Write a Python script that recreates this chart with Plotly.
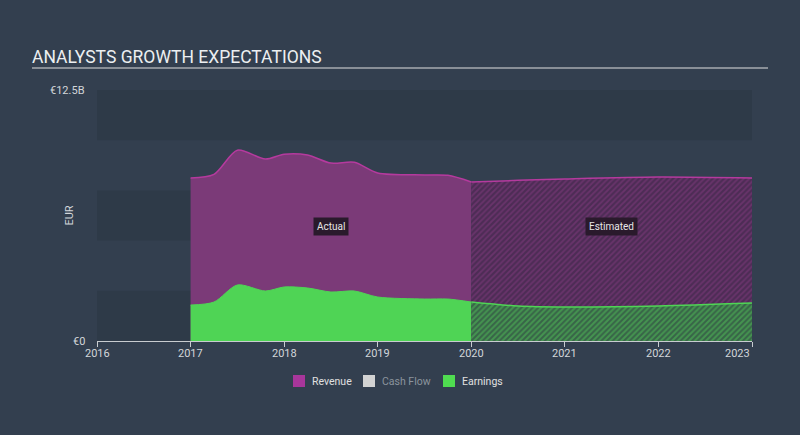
import plotly.graph_objects as go

# ---- data (EUR billions) ----
rev_act_x = [2017.0, 2017.25, 2017.5, 2017.8, 2018.0, 2018.25, 2018.5, 2018.75, 2019.0, 2019.5, 2019.75, 2020.0]
rev_act_y = [8.12, 8.3, 9.5, 9.06, 9.3, 9.26, 8.86, 8.9, 8.37, 8.27, 8.25, 7.92]
earn_act_y = [1.79, 1.94, 2.79, 2.49, 2.69, 2.64, 2.44, 2.49, 2.19, 2.09, 2.09, 1.94]

est_x = [2020.0, 2020.5, 2021.0, 2022.0, 2023.0]
rev_est_y = [7.92, 8.0, 8.07, 8.17, 8.12]
earn_est_y = [1.94, 1.74, 1.69, 1.74, 1.89]

tick_vals = [2016, 2017, 2018, 2019, 2020, 2021, 2022, 2023]
tick_text = ["2016", "2017", "2018", "2019", "2020", "2021", "2022", "2023"]
y_tick_vals = [0, 12.5]
y_tick_text = ["€0", "€12.5B"]
legend_names = ["Revenue", "Cash Flow", "Earnings"]
legend_colors = ["#a8369b", "#d2d2d2", "#4fdc50"]
legend_text_colors = ["#e0e0e0", "#8b949d", "#e0e0e0"]

BG = "#333f4f"
BAND = "#2e3a48"
PURPLE = "#7b3a78"
PURPLE_LINE = "#b53a9e"
GREEN = "#4fd455"
TXT = "#d2d6da"

# plot area in pixels (for converting layout positions)
PL, PR, PT, PB = 97, 752, 90, 341
def px_x(p):
    return (p - PL) / (PR - PL)
def px_y(p):
    return (PB - p) / (PB - PT)

fig = go.Figure()

# bands
for y0 in [0, 5, 10]:
    fig.add_shape(type="rect", xref="paper", yref="y", x0=0, x1=1, y0=y0, y1=y0 + 2.5,
                  fillcolor=BAND, line_width=0, layer="below")

# title underline
fig.add_shape(type="line", xref="paper", yref="paper",
              x0=px_x(32), x1=px_x(768), y0=px_y(68), y1=px_y(68),
              line=dict(color="#e0e0e0", width=1))

fig.add_trace(go.Scatter(x=rev_act_x, y=rev_act_y, mode="lines", fill="tozeroy",
                         line=dict(color=PURPLE_LINE, width=1.5, shape="spline", smoothing=0.8),
                         fillcolor=PURPLE, showlegend=False))
fig.add_trace(go.Scatter(x=est_x, y=rev_est_y, mode="lines", fill="tozeroy",
                         line=dict(color=PURPLE_LINE, width=1.5, shape="spline", smoothing=0.8),
                         fillcolor="#5a2e5d",
                         fillpattern=dict(shape="/", fgcolor="#863c82", bgcolor="#4d2c55", size=4, solidity=0.45),
                         showlegend=False))
fig.add_trace(go.Scatter(x=rev_act_x, y=earn_act_y, mode="lines", fill="tozeroy",
                         line=dict(color=GREEN, width=1, shape="spline", smoothing=0.8),
                         fillcolor=GREEN, showlegend=False))
fig.add_trace(go.Scatter(x=est_x, y=earn_est_y, mode="lines", fill="tozeroy",
                         line=dict(color=GREEN, width=1.5, shape="spline", smoothing=0.8),
                         fillcolor="#3f7d48",
                         fillpattern=dict(shape="/", fgcolor="#52c458", bgcolor="#386448", size=4, solidity=0.5),
                         showlegend=False))

# manual legend (square swatches + labels)
swatch_left = [293, 363, 443]
for left, n, c, tc in zip(swatch_left, legend_names, legend_colors, legend_text_colors):
    fig.add_shape(type="rect", xref="paper", yref="paper",
                  x0=px_x(left), x1=px_x(left + 12), y0=px_y(387), y1=px_y(375),
                  fillcolor=c, line_width=0)
    fig.add_annotation(x=px_x(left + 17), y=px_y(381), xref="paper", yref="paper",
                       text=n, showarrow=False, xanchor="left", yanchor="middle",
                       font=dict(size=10.5, color=tc))

# year tick labels
for v, t in zip(tick_vals, tick_text):
    last = v == tick_vals[-1]
    fig.add_annotation(x=v, y=0, xref="x", yref="y", yshift=-4, text=t, showarrow=False,
                       xanchor="right" if last else "center", yanchor="top",
                       font=dict(color=TXT, size=11))

# y tick labels
for v, t in zip(y_tick_vals, y_tick_text):
    fig.add_annotation(x=0, y=v, xref="paper", yref="y", xshift=-10, text=t, showarrow=False,
                       xanchor="right", yanchor="middle", font=dict(color=TXT, size=11))

fig.add_annotation(x=2018.5, y=5.7, xref="x", yref="y", text="Actual", showarrow=False,
                   bgcolor="#2a1a2c", font=dict(color="#e6e6e6", size=10), borderpad=3)
fig.add_annotation(x=2021.5, y=5.7, xref="x", yref="y", text="Estimated", showarrow=False,
                   bgcolor="#2a1a2c", font=dict(color="#e6e6e6", size=10), borderpad=3)

fig.update_layout(
    width=800, height=435,
    paper_bgcolor=BG, plot_bgcolor=BG,
    margin=dict(l=PL, r=800 - PR, t=PT, b=435 - PB),
    font=dict(family="Roboto, sans-serif", color=TXT, size=11),
    showlegend=False,
    title=dict(text="ANALYSTS GROWTH EXPECTATIONS", x=32 / 800, xanchor="left", y=1 - 57 / 435,
               yanchor="middle", font=dict(size=17.5, color="#eceff1")),
    xaxis=dict(range=[2016, 2023], tickvals=tick_vals, ticktext=[""] * len(tick_vals),
               showgrid=False, zeroline=False, showline=True, linecolor="#c8ccd0", linewidth=1,
               ticks="outside", ticklen=5, tickcolor="#c8ccd0"),
    yaxis=dict(range=[0, 12.5], tickvals=[], showgrid=False, zeroline=False,
               title=dict(text="EUR", font=dict(size=11, color=TXT), standoff=20)),
)

fig.write_html("out.html", config={"displayModeBar": False})

# remove default page margin so the figure fills the window
with open("out.html", "r", encoding="utf-8") as f:
    html = f.read()
html = html.replace("<head>", "<head><style>html,body{margin:0;padding:0;background:%s;overflow:hidden}</style>" % BG, 1)
with open("out.html", "w", encoding="utf-8") as f:
    f.write(html)
